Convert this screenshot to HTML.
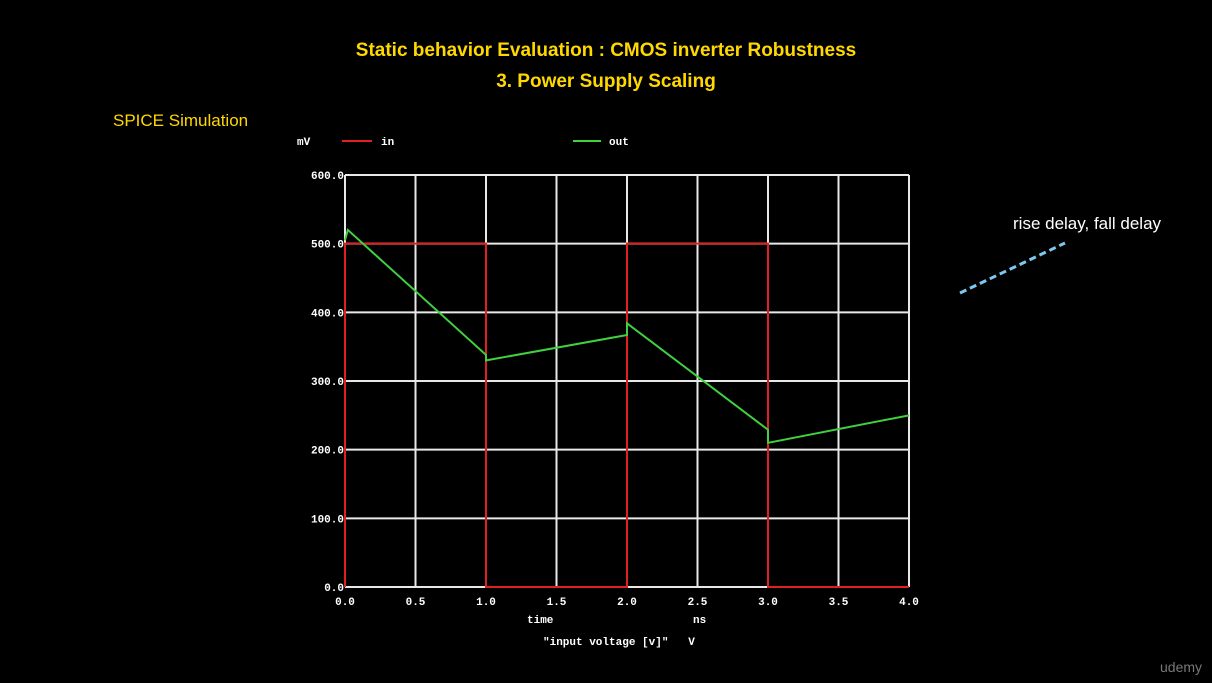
<!DOCTYPE html>
<html><head><meta charset="utf-8"><style>
html,body{margin:0;padding:0;background:#000;width:1212px;height:683px;overflow:hidden}
svg{display:block}
.t{font-family:"Liberation Sans",sans-serif;font-weight:bold;fill:#ffd800}
.m{font-family:"Liberation Mono",monospace;font-weight:bold;fill:#fff;font-size:11px}
</style></head><body>
<svg id="c" width="1212" height="683">
<text class="t" x="606" y="56" font-size="19" text-anchor="middle">Static behavior Evaluation : CMOS inverter Robustness</text>
<text class="t" x="606" y="87" font-size="19" text-anchor="middle">3. Power Supply Scaling</text>
<text class="t" x="113" y="126" font-size="17" style="font-weight:normal">SPICE Simulation</text>
<text x="1013" y="229" font-size="17" fill="#fff" font-family="Liberation Sans,sans-serif">rise delay, fall delay</text>
<line x1="960" y1="293" x2="1065" y2="243" stroke="#7cc8f0" stroke-width="3" stroke-dasharray="7,4"/>
<text x="1160" y="672" font-size="14" fill="#777" font-family="Liberation Sans,sans-serif">udemy</text>
<text class="m" x="297" y="145">mV</text>
<line x1="342" y1="141" x2="372" y2="141" stroke="#e02020" stroke-width="2"/>
<text class="m" x="381" y="145">in</text>
<line x1="573" y1="141" x2="601" y2="141" stroke="#40d040" stroke-width="2"/>
<text class="m" x="609" y="145">out</text>
<text class="m" x="527" y="623">time</text>
<text class="m" x="693" y="623">ns</text>
<text class="m" x="543" y="645">"input voltage [v]"&#160;&#160;&#160;V</text>
<g id="grid"></g><g id="series"></g>
</svg>
<script>
const xTicks=[0,0.5,1,1.5,2,2.5,3,3.5,4];
const yTicks=[0,100,200,300,400,500,600];
const inT=[0,0,1,1,2,2,3,3,4];
const inV=[0,500,500,0,0,500,500,0,0];
const outT=[0,0.02,1.0,1.0,2.0,2.0,3.0,3.0,4.0];
const outV=[505,520,338,330,367,384,229,210,250];
const X0=345,X1=909,Y0=587,Y1=175;
const sx=t=>X0+(t-xTicks[0])/(xTicks[xTicks.length-1]-xTicks[0])*(X1-X0);
const sy=v=>Y0-(v-yTicks[0])/(yTicks[yTicks.length-1]-yTicks[0])*(Y0-Y1);
const NS="http://www.w3.org/2000/svg";
const g=document.getElementById('grid'),s=document.getElementById('series');
function mk(tag,at,p){const e=document.createElementNS(NS,tag);for(const k in at)e.setAttribute(k,at[k]);p.appendChild(e);return e;}
xTicks.forEach(t=>{
 const l=mk('line',{x1:sx(t),x2:sx(t),y1:Y1,y2:Y0,stroke:'#e8e8e8','stroke-width':2},g);
 
 
 const tx=mk('text',{x:sx(t),y:605,'text-anchor':'middle',class:'m'},g);tx.textContent=t.toFixed(1);
 
 
});
yTicks.forEach(v=>{
 const l=mk('line',{x1:X0,x2:X1,y1:sy(v),y2:sy(v),stroke:'#e8e8e8','stroke-width':2},g);
 
 
 const tx=mk('text',{x:X0-1,y:sy(v)+4,'text-anchor':'end',class:'m'},g);tx.textContent=v.toFixed(1);
 
 
});
const pin=mk('polyline',{points:inT.map((t,i)=>sx(t)+','+sy(inV[i])).join(' '),fill:'none',stroke:'#e02020','stroke-width':2},s);


const pout=mk('polyline',{points:outT.map((t,i)=>sx(t)+','+sy(outV[i])).join(' '),fill:'none',stroke:'#40d040','stroke-width':2},s);


</script>
</body></html>
